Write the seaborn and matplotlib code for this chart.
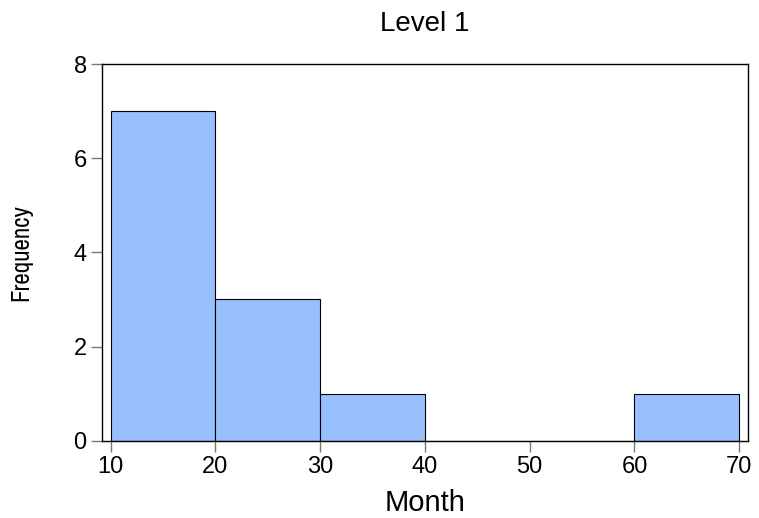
import matplotlib
matplotlib.use("Agg")
import matplotlib.pyplot as plt
import seaborn as sns

# bin edges (months) and counts per bin
bin_edges = [10, 20, 30, 40, 50, 60, 70]
bin_mids = [15, 25, 35, 45, 55, 65]
counts = [7, 3, 1, 0, 0, 1]

sns.set_style("white")
plt.rcParams['font.family'] = ['Liberation Sans', 'DejaVu Sans']
plt.rcParams['text.color'] = 'black'
plt.rcParams['axes.labelcolor'] = 'black'

fig = plt.figure(figsize=(7.59, 5.18), dpi=100)
ax = fig.add_axes([0.1344, 0.1492, 0.8506, 0.7272])

sns.histplot(x=bin_mids, weights=counts, bins=bin_edges, ax=ax,
             color='#99bfff', alpha=1, edgecolor='black', linewidth=0.8)

ax.set_xlim(9.17, 70.8)
ax.set_ylim(0, 8)
ax.set_xticks([10, 20, 30, 40, 50, 60, 70])
ax.set_yticks([0, 2, 4, 6, 8])
ax.tick_params(axis='both', direction='out', length=8, width=1, color='#777777',
               labelsize=17, labelcolor='black', pad=3)
ax.tick_params(axis='x', bottom=True)
ax.tick_params(axis='y', left=True)
for s in ax.spines.values():
    s.set_color('black')
    s.set_linewidth(1)

ax.set_title('Level 1', fontsize=20, pad=24, color='black')
ax.set_xlabel('Month', fontsize=21, labelpad=8)
ax.set_ylabel('Frequency', fontsize=18, labelpad=30,
              family=['Liberation Sans Narrow', 'Archivo Narrow', 'PT Sans Narrow', 'DejaVu Sans'])

fig.savefig('out.png', dpi=100)
